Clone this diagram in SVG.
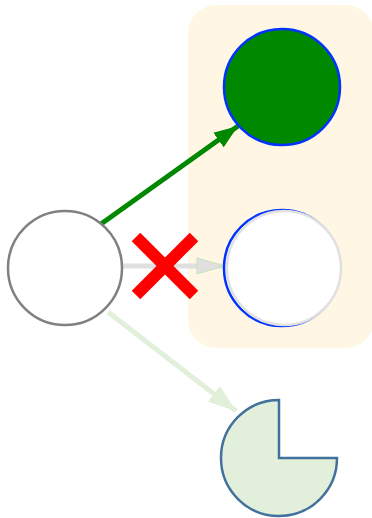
<svg xmlns="http://www.w3.org/2000/svg" width="372" height="518" viewBox="0 0 372 518">
<style>
.node{stroke-width:2.5}
</style>
<defs>
<marker id="ahGreen" markerUnits="userSpaceOnUse" markerWidth="26" markerHeight="22" viewBox="0 0 26 22" refX="24" refY="11" orient="auto">
<path d="M0,2 L24,11 L0,20 Z" fill="#008800"/>
</marker>
<marker id="ahGray" markerUnits="userSpaceOnUse" markerWidth="30" markerHeight="20" viewBox="0 0 30 20" refX="28" refY="10" orient="auto">
<path d="M1,2 L28,10 L1,18 Z" fill="#e0e0e0" stroke="#c5e0b4" stroke-width="1"/>
</marker>
<marker id="ahLight" markerUnits="userSpaceOnUse" markerWidth="30" markerHeight="24" viewBox="0 0 30 24" refX="28" refY="12" orient="auto">
<path d="M0,2 L28,12 L0,22 Z" fill="#e2efda"/>
</marker>
</defs>
<rect id="group" x="188" y="5" width="186" height="343" rx="28" fill="#fff7e4"/>
<g id="connectors">
<line x1="101" y1="224" x2="238" y2="126" stroke="#008800" stroke-width="5" marker-end="url(#ahGreen)"/>
<line x1="122" y1="266" x2="224" y2="266" stroke="#e0e0e0" stroke-width="5" marker-end="url(#ahGray)"/>
<line x1="108" y1="312" x2="236" y2="411" stroke="#e2efda" stroke-width="5" marker-end="url(#ahLight)"/>
</g>
<g id="blocked">
<line x1="136" y1="237" x2="194" y2="295" stroke="#ff0000" stroke-width="12"/>
<line x1="194" y1="237" x2="136" y2="295" stroke="#ff0000" stroke-width="12"/>
</g>
<g id="source">
<circle cx="65" cy="268" r="57" fill="#ffffff" stroke="#808080" class="node"/>
</g>
<g id="target-active">
<circle cx="282" cy="87" r="58" fill="#008800" stroke="#0033ff" class="node"/>
</g>
<g id="target-blocked">
<circle cx="282" cy="268" r="58" fill="#ffffff" stroke="#0033ff" class="node"/>
<circle cx="284" cy="268" r="57" fill="#ffffff" stroke="#e0e0e0" stroke-width="2.5"/>
</g>
<g id="pie">
<path d="M279,458 L279,400 A58,58 0 1,0 337,458 Z" fill="#e2efda" stroke="#41719c" class="node"/>
</g>
</svg>
